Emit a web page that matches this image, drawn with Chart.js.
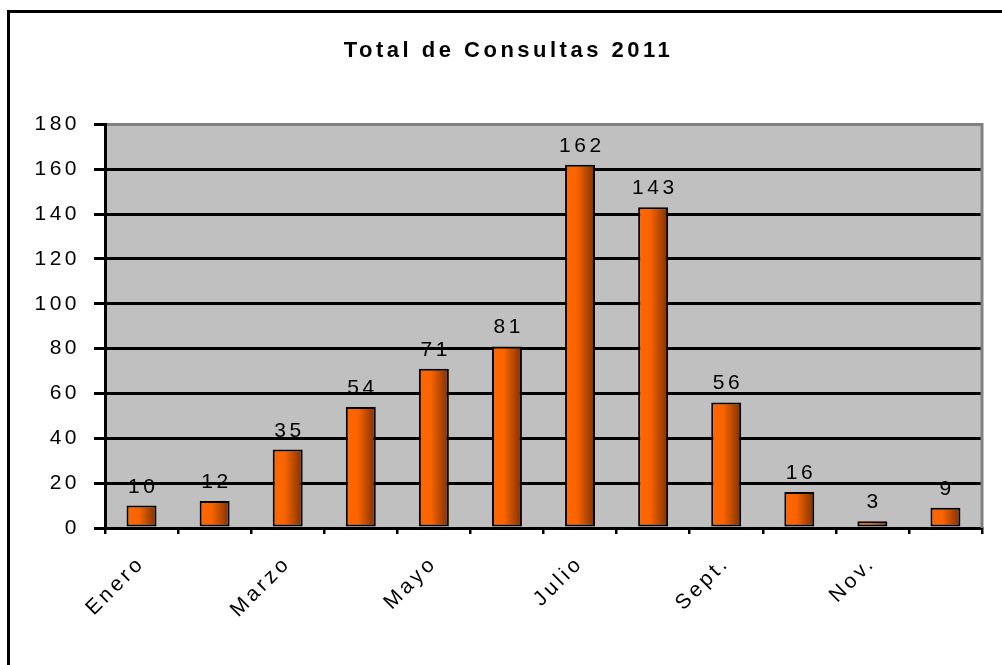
<!DOCTYPE html>
<html>
<head>
<meta charset="utf-8">
<title>Total de Consultas 2011</title>
<script src="https://cdn.jsdelivr.net/npm/chart.js@4.4.1/dist/chart.umd.min.js"></script>
<style>
  html, body { margin: 0; padding: 0; background: #fff; overflow: hidden; width: 1002px; height: 665px; }
  #wrap { position: relative; width: 1002px; height: 665px; overflow: hidden; }
  #frame { position: absolute; left: 7px; top: 10px; width: 995px; height: 655px;
           border-style: solid; border-color: #000; border-width: 3px 0 0 3px;
           box-sizing: border-box; pointer-events: none; }
  #c { position: absolute; left: 0; top: 0; }
</style>
</head>
<body>
<div id="wrap">
  <div id="frame"></div>
  <canvas id="c" width="1002" height="665"></canvas>
</div>
<script>
// Monthly consultation counts
const months = ['Enero', 'Febrero', 'Marzo', 'Abril', 'Mayo', 'Junio',
                'Julio', 'Agosto', 'Sept.', 'Oct.', 'Nov.', 'Dic.'];
const consultas = [10, 12, 35, 54, 71, 81, 162, 143, 56, 16, 3, 9];
const yTickValues = [0, 20, 40, 60, 80, 100, 120, 140, 160, 180];

const FONT = 'Liberation Sans, Arial, sans-serif';
const TEXT_SIZE = 21;
const BAR_PCT = 0.41;
const LETTER_SPACING = 3.5;

// Wide character spacing for every text drawn on the canvas
const spacingPlugin = {
  id: 'spacing',
  beforeDraw(chart) { chart.ctx.letterSpacing = LETTER_SPACING + 'px'; }
};

// Grey plot wall with a grey right edge
const plotWall = {
  id: 'plotWall',
  beforeDraw(chart) {
    const { ctx, chartArea: a } = chart;
    ctx.save();
    ctx.fillStyle = '#C0C0C0';
    ctx.fillRect(a.left, a.top, a.right - a.left, a.bottom - a.top);
    ctx.restore();
  },
  beforeDatasetsDraw(chart) {
    const { ctx, chartArea: a } = chart;
    ctx.save();
    ctx.strokeStyle = '#808080';
    ctx.lineWidth = 3;
    ctx.beginPath();
    ctx.moveTo(a.right, a.top - 1.5);
    ctx.lineTo(a.right, a.bottom);
    ctx.stroke();
    ctx.restore();
  }
};

// Value written above each bar
const valueLabels = {
  id: 'valueLabels',
  afterDatasetsDraw(chart) {
    const { ctx } = chart;
    const meta = chart.getDatasetMeta(0);
    ctx.save();
    ctx.font = TEXT_SIZE + 'px ' + FONT;
    ctx.fillStyle = '#000';
    ctx.textAlign = 'center';
    ctx.textBaseline = 'alphabetic';
    ctx.letterSpacing = LETTER_SPACING + 'px';
    meta.data.forEach((bar, i) => {
      ctx.fillText(String(consultas[i]), bar.x + LETTER_SPACING / 2, bar.y - 13);
    });
    ctx.restore();
  }
};

// Horizontal orange-to-brown shading across each bar
function barGradient(context) {
  const chart = context.chart;
  const xs = chart.scales && chart.scales.x;
  if (!xs || context.type !== 'data') return '#FF6600';
  const cx = xs.getPixelForValue(context.dataIndex);
  const w = xs.width / months.length * BAR_PCT;
  if (!isFinite(cx) || !isFinite(w) || w <= 0) return '#FF6600';
  const g = chart.ctx.createLinearGradient(cx - w / 2, 0, cx + w / 2, 0);
  g.addColorStop(0, '#FF6600');
  g.addColorStop(0.4, '#FA6400');
  g.addColorStop(1, '#7C3000');
  return g;
}

new Chart(document.getElementById('c'), {
  type: 'bar',
  data: {
    labels: months,
    datasets: [{
      data: consultas,
      backgroundColor: barGradient,
      borderColor: '#000',
      borderWidth: 2,
      borderSkipped: false,
      barPercentage: BAR_PCT,
      categoryPercentage: 1
    }]
  },
  options: {
    responsive: false,
    animation: false,
    events: [],
    layout: { padding: { left: 35, right: 20, top: 0, bottom: 0 } },
    plugins: {
      legend: { display: false },
      tooltip: { enabled: false },
      title: {
        display: true,
        text: 'Total de Consultas 2011',
        color: '#000',
        font: { family: FONT, size: 22, weight: 'bold', lineHeight: 1.2 },
        padding: { top: 38, bottom: 60 }
      }
    },
    scales: {
      x: {
        grid: {
          display: true,
          drawOnChartArea: false,
          drawTicks: true,
          tickLength: 6,
          offset: true,
          color: '#000',
          lineWidth: 2.5,
          tickWidth: 2.5
        },
        border: { display: true, color: '#000', width: 3 },
        ticks: {
          autoSkip: false,
          minRotation: 45,
          maxRotation: 45,
          padding: 17,
          color: '#000',
          font: { family: FONT, size: TEXT_SIZE },
          callback: (v, i) => (i % 2 === 0 ? months[i] : '')
        },
        afterFit(s) { s.height = 137; }
      },
      y: {
        min: yTickValues[0],
        max: yTickValues[yTickValues.length - 1],
        afterBuildTicks(s) { s.ticks = yTickValues.map(v => ({ value: v })); },
        ticks: {
          padding: 14,
          color: '#000',
          font: { family: FONT, size: TEXT_SIZE }
        },
        grid: {
          color: c => (c.tick && c.tick.value === 180 ? '#808080' : '#000'),
          lineWidth: 3,
          tickLength: 11,
          tickColor: '#000',
          tickWidth: 3
        },
        border: { display: true, color: '#000', width: 3 },
        afterFit(s) { s.width = 70; }
      }
    }
  },
  plugins: [spacingPlugin, plotWall, valueLabels]
});
</script>
</body>
</html>
